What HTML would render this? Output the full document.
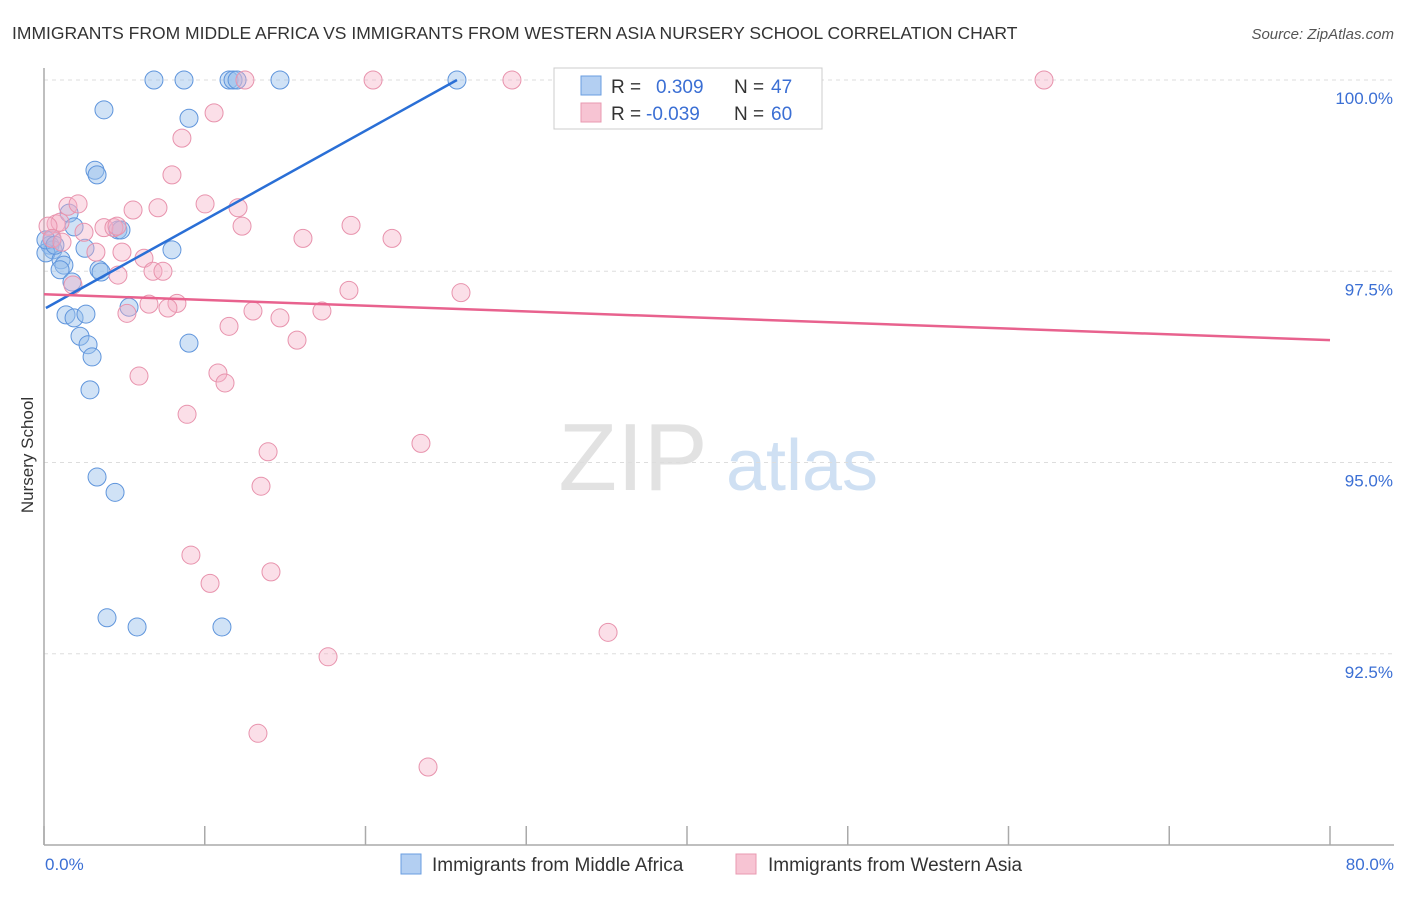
<!DOCTYPE html>
<html><head><meta charset="utf-8"><style>
body{margin:0;background:#fff;font-family:"Liberation Sans",sans-serif;}
svg text{font-family:"Liberation Sans",sans-serif;}
</style></head><body>
<svg id="chart" width="1406" height="892" xmlns="http://www.w3.org/2000/svg">
<text x="12" y="39" font-size="17.5" fill="#333">IMMIGRANTS FROM MIDDLE AFRICA VS IMMIGRANTS FROM WESTERN ASIA NURSERY SCHOOL CORRELATION CHART</text>
<text x="1394" y="39" font-size="15" fill="#555" font-style="italic" text-anchor="end">Source: ZipAtlas.com</text>
<g>
<text x="633" y="490" font-size="96" font-family="Liberation Serif" fill="#e2e2e2" text-anchor="middle">ZIP</text>
<text x="802" y="490" font-size="72" fill="#cfe0f3" text-anchor="middle">atlas</text>
</g>
<g id="grid"></g>
<g id="axes"></g>
<g id="points"></g>
<g id="trends"></g>
<text transform="translate(33,455) rotate(-90)" font-size="17" fill="#333" text-anchor="middle">Nursery School</text>
<text x="45" y="870" font-size="17" fill="#3b6fd4">0.0%</text>
<text x="1394" y="870" font-size="17" fill="#3b6fd4" text-anchor="end">80.0%</text>
<g>
<rect x="554" y="68" width="268" height="61" fill="#fff" stroke="#ccc"/>
<rect x="581" y="76" width="20" height="19" fill="#b3cff2" stroke="#6a9ee0"/>
<text x="611" y="93" font-size="19" fill="#333">R =</text>
<text x="656" y="93" font-size="19" fill="#3b6fd4">0.309</text>
<text x="734" y="93" font-size="19" fill="#333">N =</text>
<text x="771" y="93" font-size="19" fill="#3b6fd4">47</text>
<rect x="581" y="103" width="20" height="19" fill="#f7c4d3" stroke="#e89ab0"/>
<text x="611" y="120" font-size="19" fill="#333">R =</text>
<text x="646" y="120" font-size="19" fill="#3b6fd4">-0.039</text>
<text x="734" y="120" font-size="19" fill="#333">N =</text>
<text x="771" y="120" font-size="19" fill="#3b6fd4">60</text>
</g>
<g>
<g>
<rect x="401" y="854" width="20" height="20" fill="#b3cff2" stroke="#6a9ee0"/>
<text x="432" y="871" font-size="19" fill="#333">Immigrants from Middle Africa</text></g>
<g>
<rect x="736" y="854" width="20" height="20" fill="#f7c4d3" stroke="#e89ab0"/>
<text x="768" y="871" font-size="19" fill="#333">Immigrants from Western Asia</text></g>
</g>
</svg>
<script>
const yTicks=[100,97.5,95,92.5];
const yTickLabels=["100.0%","97.5%","95.0%","92.5%"];
const xTicks=[0,10,20,30,40,50,60,70,80];
const blueX=[6.84,8.71,11.51,11.76,12.01,14.68,25.69,3.73,9.02,3.17,3.30,1.56,1.87,0.50,0.37,0.56,0.12,2.55,4.60,4.79,7.96,1.06,1.24,1.00,3.42,3.55,1.74,5.29,1.37,1.87,2.61,2.24,2.74,2.99,2.86,9.02,3.30,4.42,3.92,5.79,11.07,0.12,0.68];
const blueY=[100,100,100,100,100,100,100,99.61,99.50,98.82,98.76,98.26,98.08,97.91,97.84,97.78,97.74,97.80,98.04,98.04,97.78,97.65,97.58,97.52,97.52,97.49,97.36,97.03,96.93,96.89,96.94,96.65,96.54,96.38,95.95,96.56,94.81,94.61,92.97,92.85,92.85,97.91,97.84];
const pinkX=[12.50,20.47,29.11,42.30,62.21,10.58,8.58,7.96,10.02,1.49,2.12,12.07,7.09,5.54,0.75,1.00,0.25,0.50,1.12,2.49,3.73,4.35,4.54,12.32,19.10,16.11,21.65,3.23,4.85,6.22,6.78,7.40,4.60,1.80,18.97,25.94,6.53,8.27,7.71,13.00,5.16,17.29,14.68,11.51,15.74,5.91,10.82,11.26,8.90,23.45,13.94,13.50,9.14,10.33,14.12,35.09,17.67,13.31,23.89];
const pinkY=[100,100,100,100,100,99.57,99.24,98.76,98.38,98.35,98.38,98.33,98.33,98.30,98.12,98.14,98.09,97.93,97.88,98.01,98.07,98.07,98.09,98.09,98.10,97.93,97.93,97.75,97.75,97.67,97.50,97.50,97.45,97.32,97.25,97.22,97.07,97.08,97.02,96.98,96.95,96.98,96.89,96.78,96.60,96.13,96.17,96.04,95.63,95.25,95.14,94.69,93.79,93.42,93.57,92.78,92.46,91.46,91.02];
const blueTrendX=[0.12,25.69];
const blueTrendY=[97.02,100];
const pinkTrendX=[0,80];
const pinkTrendY=[97.20,96.60];

const NS="http://www.w3.org/2000/svg";
function sx(v){return 44+v/80*1286;}
function sy(v){return 80+(100-v)*76.5;}
function mk(tag,attrs,parent){const e=document.createElementNS(NS,tag);for(const k in attrs)e.setAttribute(k,attrs[k]);parent.appendChild(e);return e;}
const grid=document.getElementById('grid'),axes=document.getElementById('axes'),pts=document.getElementById('points'),tr=document.getElementById('trends');
yTicks.forEach((t,i)=>{
 const l=mk('line',{x1:44,x2:1394,y1:sy(t),y2:sy(t),stroke:'#ddd','stroke-dasharray':'4,4'},grid);
 
 
 const tx=mk('text',{x:1393,y:sy(t)+24,'font-size':17,fill:'#3b6fd4','text-anchor':'end'},grid);
 tx.textContent=yTickLabels[i];
 
 
});
const ya=mk('line',{x1:44,x2:44,y1:68,y2:845,stroke:'#aaa','stroke-width':1.5},axes);


const xa=mk('line',{x1:44,x2:1394,y1:845,y2:845,stroke:'#aaa','stroke-width':1.5},axes);


xTicks.forEach(t=>{const l=mk('line',{x1:sx(t),x2:sx(t),y1:826,y2:845,stroke:'#aaa','stroke-width':1.5},axes);
 
 });
blueX.forEach((x,i)=>{const c=mk('circle',{cx:sx(x),cy:sy(blueY[i]),r:9,fill:'rgba(150,190,235,0.45)',stroke:'#5f95dc','stroke-width':1},pts);
 
 });
pinkX.forEach((x,i)=>{const c=mk('circle',{cx:sx(x),cy:sy(pinkY[i]),r:9,fill:'rgba(245,175,198,0.4)',stroke:'#e893ad','stroke-width':1},pts);
 
 });
const bl=mk('line',{x1:sx(blueTrendX[0]),y1:sy(blueTrendY[0]),x2:sx(blueTrendX[1]),y2:sy(blueTrendY[1]),stroke:'#2a6fd6','stroke-width':2.5},tr);


const pl=mk('line',{x1:sx(pinkTrendX[0]),y1:sy(pinkTrendY[0]),x2:sx(pinkTrendX[1]),y2:sy(pinkTrendY[1]),stroke:'#e8628e','stroke-width':2.5},tr);


</script>
</body></html>
